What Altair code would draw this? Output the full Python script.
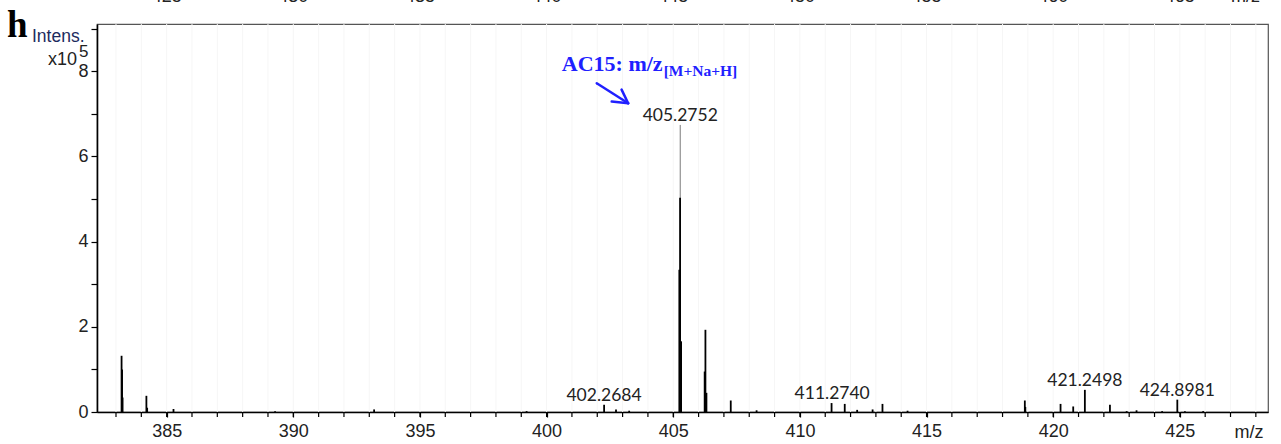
import altair as alt
import pandas as pd

# ---- spectrum sticks (m/z, intensity x10^5) ----
peak_mz = [405.2752, 405.27, 405.24, 405.31, 383.22, 383.24, 383.26, 384.20, 384.23,
           385.27, 389.28, 393.19, 399.21, 402.27, 402.74, 403.26, 406.27, 406.24,
           406.31, 407.27, 408.29, 411.25, 411.77, 412.26, 412.87, 413.26, 414.25,
           418.88, 418.90, 420.29, 420.79, 421.25, 422.24, 422.90, 423.29, 424.30,
           424.90, 425.20, 425.92]
peak_int = [6.74, 5.03, 3.34, 1.66, 1.32, 1.00, 0.34, 0.38, 0.10,
            0.07, 0.02, 0.06, 0.02, 0.17, 0.06, 0.03, 1.93, 0.95,
            0.45, 0.27, 0.04, 0.21, 0.19, 0.05, 0.06, 0.19, 0.03,
            0.27, 0.12, 0.19, 0.13, 0.52, 0.17, 0.02, 0.04, 0.02,
            0.29, 0.02, 0.02]

# ---- labelled peaks ----
label_mz = [405.2752, 402.2684, 411.2740, 421.2498, 424.8981]
label_int = [6.74, 0.17, 0.21, 0.52, 0.29]
label_txt = ["405.2752", "402.2684", "411.2740", "421.2498", "424.8981"]

# ---- annotation ----
anno_main = "AC15: m/z"
anno_sub = "[M+Na+H]"
anno_main_pos = (400.6, 7.995)
anno_sub_pos = (404.62, 7.90)
arrow_x1 = [401.98, 403.22, 403.22]
arrow_y1 = [7.72, 7.25, 7.25]
arrow_x2 = [403.22, 402.57, 402.96]
arrow_y2 = [7.25, 7.29, 7.57]

# ---- clipped tick labels of the panel above ----
top_vals = [385, 390, 395, 400, 405, 410, 415, 420, 425]
top_txt = ["425", "430", "435", "440", "445", "450", "455", "460", "465"]

x_major = list(range(385, 430, 5))
x_minor = list(range(383, 429))
y_ticks = list(range(0, 10))

XDOM = [382.25, 428.48]
YDOM = [0, 9.11]
W, H = 1171, 388

peaks = pd.DataFrame({"mz": peak_mz, "intensity": peak_int})
labels = pd.DataFrame({"mz": label_mz, "intensity": label_int, "txt": label_txt})
arrow = pd.DataFrame({"mz": arrow_x1, "intensity": arrow_y1, "mz2": arrow_x2, "int2": arrow_y2})
tops = pd.DataFrame({"mz": top_vals, "txt": top_txt})
minor = pd.DataFrame({"mz": x_minor})

xscale = alt.Scale(domain=XDOM, nice=False, zero=False)
yscale = alt.Scale(domain=YDOM, nice=False)

tick_font = "Liberation Sans"

xaxis = alt.Axis(
    values=x_major, format="d",
    labelOverlap=False, labelFlush=False,
    tickSize=5, tickWidth=1.2, tickColor="black",
    domainColor="black", domainWidth=1.6,
    labelFont=tick_font, labelFontSize=18, labelColor="#222222", labelPadding=5,
    grid=False,
    title="m/z", titleFont=tick_font, titleFontSize=18, titleFontWeight="normal",
    titleColor="#222222", titleAnchor="end", titleAlign="right",
    titleX=1166, titleY=25, titleBaseline="alphabetic")

yaxis = alt.Axis(
    values=y_ticks, format="d",
    labelExpr="datum.value % 2 === 0 ? datum.label : ''",
    labelOverlap=False, labelFlush=False,
    tickSize=6, tickWidth=1.2, tickColor="black",
    domainColor="black", domainWidth=1.6,
    labelFont=tick_font, labelFontSize=18, labelColor="#222222", labelPadding=3,
    grid=False, title=None)

grid_layer = alt.Chart(minor).mark_rule(color="#f6f6f6", strokeWidth=1).encode(
    x=alt.X("mz:Q", scale=xscale, axis=xaxis),
    y=alt.value(0), y2=alt.value(H))

minor_ticks = alt.Chart(minor).mark_rule(color="black", strokeWidth=1.2).encode(
    x=alt.X("mz:Q", scale=xscale, axis=xaxis),
    y=alt.value(H), y2=alt.value(H + 5))

sticks = alt.Chart(peaks).mark_rule().encode(
    x=alt.X("mz:Q", scale=xscale, axis=xaxis),
    y=alt.Y("intensity:Q", scale=yscale, axis=yaxis),
    y2=alt.datum(0),
    color=alt.condition("datum.intensity > 6", alt.value("#7a7a7a"), alt.value("black")),
    strokeWidth=alt.condition("datum.intensity > 6", alt.value(1.0), alt.value(1.8)),
)

peak_labels = alt.Chart(labels).mark_text(
    font="Lato", fontSize=17.5, color="#222222", align="center",
    baseline="alphabetic", dy=-4
).encode(x="mz:Q", y="intensity:Q", text="txt:N")

anno1 = alt.Chart(pd.DataFrame({"mz": [anno_main_pos[0]], "intensity": [anno_main_pos[1]], "t": [anno_main]})).mark_text(
    font="Liberation Serif", fontWeight="bold", fontSize=22, color="#2020ff",
    align="left", baseline="alphabetic"
).encode(x="mz:Q", y="intensity:Q", text="t:N")

anno2 = alt.Chart(pd.DataFrame({"mz": [anno_sub_pos[0]], "intensity": [anno_sub_pos[1]], "t": [anno_sub]})).mark_text(
    font="Liberation Serif", fontWeight="bold", fontSize=15.5, color="#2020ff",
    align="left", baseline="alphabetic"
).encode(x="mz:Q", y="intensity:Q", text="t:N")

arrow_layer = alt.Chart(arrow).mark_rule(color="#2020ff", strokeWidth=2.5, strokeCap="round").encode(
    x="mz:Q", y="intensity:Q", x2="mz2:Q", y2="int2:Q")

top_layer = alt.Chart(tops).mark_text(
    font=tick_font, fontSize=18, color="#222222", align="center", baseline="alphabetic"
).encode(x="mz:Q", y=alt.value(-22), text="txt:N")

top_mz = alt.Chart(pd.DataFrame({"t": ["m/z"]})).mark_text(
    font=tick_font, fontSize=18, color="#222222", align="right", baseline="alphabetic"
).encode(x=alt.value(1163), y=alt.value(-22), text="t:N")

# panel letter and y-axis title block
h_txt = alt.Chart(pd.DataFrame({"t": ["h"]})).mark_text(
    font="Liberation Serif", fontWeight="bold", fontSize=37, color="black",
    align="left", baseline="alphabetic").encode(x=alt.value(-90), y=alt.value(13), text="t:N")
intens = alt.Chart(pd.DataFrame({"t": ["Intens."]})).mark_text(
    font=tick_font, fontSize=17.5, color="#1c2b5e",
    align="left", baseline="alphabetic").encode(x=alt.value(-65), y=alt.value(18), text="t:N")
x10 = alt.Chart(pd.DataFrame({"t": ["x10"]})).mark_text(
    font=tick_font, fontSize=18, color="#222222",
    align="left", baseline="alphabetic").encode(x=alt.value(-49), y=alt.value(41), text="t:N")
sup5 = alt.Chart(pd.DataFrame({"t": ["5"]})).mark_text(
    font=tick_font, fontSize=17, color="#222222",
    align="left", baseline="alphabetic").encode(x=alt.value(-18), y=alt.value(33), text="t:N")

chart = alt.layer(
    grid_layer, minor_ticks, sticks, peak_labels, anno1, anno2, arrow_layer,
    top_layer, top_mz, h_txt, intens, x10, sup5
).properties(
    width=W, height=H,
    padding={"left": 97, "top": 24, "right": 13, "bottom": 32},
    autosize=alt.AutoSizeParams(type="none"),
    background="white",
).configure_view(stroke="#555555", strokeWidth=1.2)

chart.save("out.html", embed_options={"renderer": "svg", "actions": False})
